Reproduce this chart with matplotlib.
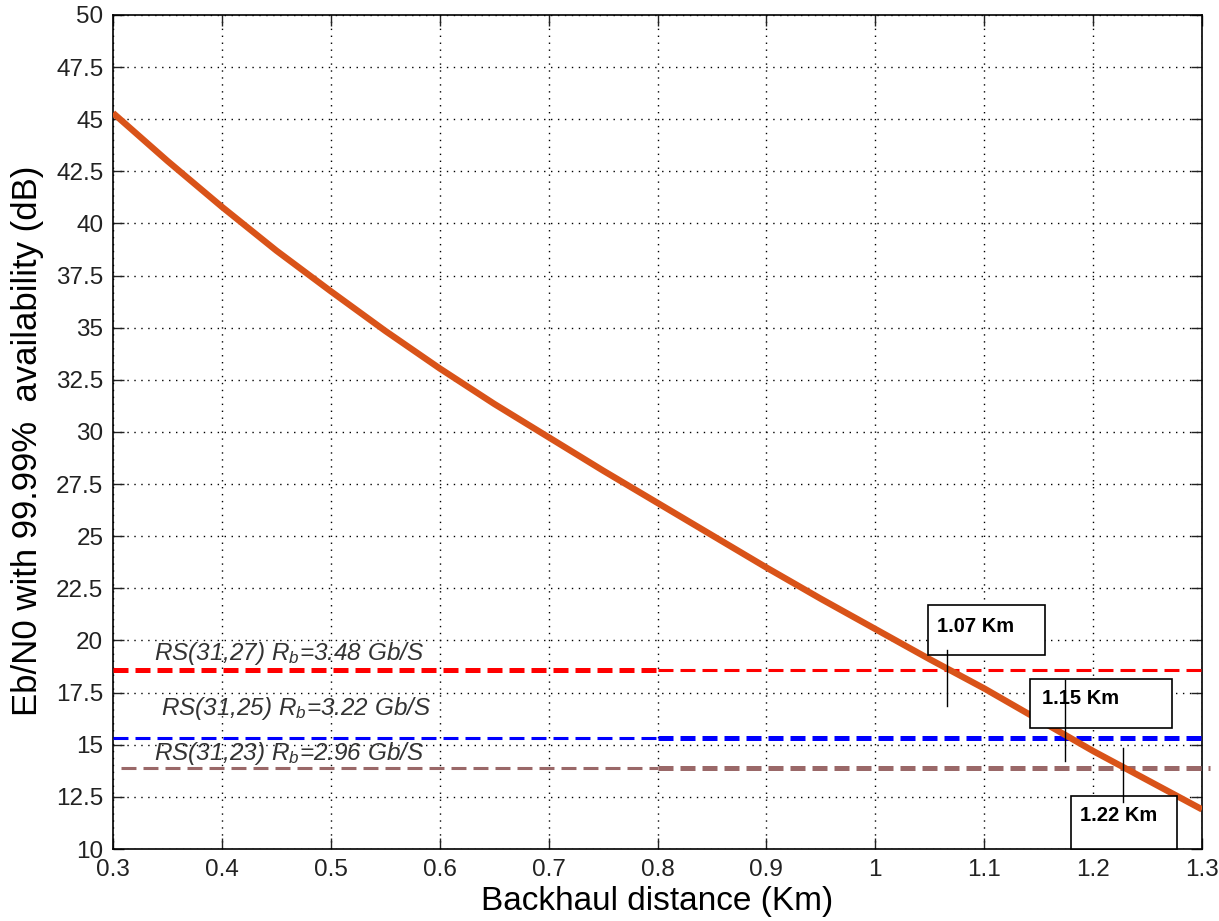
import matplotlib
matplotlib.use("Agg")
import matplotlib.pyplot as plt

plt.rcParams['font.family'] = ['Liberation Sans', 'DejaVu Sans']
plt.rcParams['mathtext.fontset'] = 'custom'
plt.rcParams['mathtext.rm'] = 'Liberation Sans'
plt.rcParams['mathtext.it'] = 'Liberation Sans:italic'

# Data
distance_km = [0.3, 0.35, 0.4, 0.45, 0.5, 0.55, 0.6, 0.65, 0.7, 0.75, 0.8,
               0.85, 0.9, 0.95, 1.0, 1.05, 1.1, 1.15, 1.2, 1.25, 1.3]
ebn0_db = [45.3, 43.0, 40.8, 38.7, 36.75, 34.85, 33.05, 31.35, 29.75, 28.15, 26.6,
           25.05, 23.5, 22.0, 20.55, 19.1, 17.7, 16.2, 14.7, 13.3, 11.9]

thresholds = [18.6, 15.3, 13.9]
threshold_colors = ['#ff0000', '#0000ff', '#9a6868']
threshold_labels = [r'RS(31,27) R$_b$=3.48 Gb/S',
                    r'RS(31,25) R$_b$=3.22 Gb/S',
                    r'RS(31,23) R$_b$=2.96 Gb/S']
crossings = [1.07, 1.15, 1.22]
crossing_x = [1.066, 1.174, 1.227]

xticks = [0.3, 0.4, 0.5, 0.6, 0.7, 0.8, 0.9, 1.0, 1.1, 1.2, 1.3]
xticklabels = ['0.3', '0.4', '0.5', '0.6', '0.7', '0.8', '0.9', '1', '1.1', '1.2', '1.3']
yticks = [10, 12.5, 15, 17.5, 20, 22.5, 25, 27.5, 30, 32.5, 35, 37.5, 40, 42.5, 45, 47.5, 50]
yticklabels = ['10', '12.5', '15', '17.5', '20', '22.5', '25', '27.5', '30', '32.5',
               '35', '37.5', '40', '42.5', '45', '47.5', '50']

fig = plt.figure(figsize=(12.19, 9.21), dpi=100)
ax = fig.add_axes([113/1219, 1-849/921, (1202-113)/1219, (849-15)/921])

split = 0.8
thick = dict(lw=3.6, ls=(0, (3.0, 1.4)))
thin = dict(lw=2.2, ls=(0, (4.9, 2.3)))
# red: thick left, thin right
ax.plot([0.3, split], [thresholds[0]]*2, color=threshold_colors[0], zorder=3, **thick)
ax.plot([split, 1.3], [thresholds[0]]*2, color=threshold_colors[0], zorder=3, **thin)
# blue: thin left, thick right
ax.plot([0.3, split], [thresholds[1]]*2, color=threshold_colors[1], zorder=3, **thin)
ax.plot([split, 1.3], [thresholds[1]]*2, color=threshold_colors[1], zorder=3, **thick)
# brown: thin left, thick right, extends slightly past axis
ax.plot([0.307, split], [thresholds[2]]*2, color=threshold_colors[2], zorder=3, **thin)
ax.plot([split, 1.307], [thresholds[2]]*2, color=threshold_colors[2], zorder=3,
        clip_on=False, **thick)

# Main curve
ax.plot(distance_km, ebn0_db, color='#d95319', lw=4.6, zorder=4,
        solid_capstyle='butt', solid_joinstyle='round')

# Labels on thresholds
label_pos = [(0.338, 19.4), (0.344, 16.75), (0.338, 14.6)]
for (lx, ly), txt in zip(label_pos, threshold_labels):
    ax.text(lx, ly, txt, fontsize=17.5, style='italic', color='#333333',
            va='center', ha='left', zorder=5)

# Annotation boxes
boxes = [(1.048, 1.156, 19.3, 21.7), (1.142, 1.272, 15.8, 18.15), (1.180, 1.277, 10.0, 12.54)]
text_pos = [(1.0567, 21.15), (1.153, 17.65), (1.188, 12.05)]
marks = [(16.86, 19.55), (14.2, 18.1), (12.25, 14.85)]
for (x0, x1, y0, y1), (tx, ty), (m0, m1), cx, val in zip(boxes, text_pos, marks, crossing_x, crossings):
    ax.add_patch(plt.Rectangle((x0, y0), x1 - x0, y1 - y0, fill=True, facecolor='white',
                               edgecolor='black', lw=1.2, zorder=5, clip_on=False))
    ax.text(tx, ty, f'{val:.2f} Km', fontsize=14.5, fontweight='bold',
            va='top', ha='left', zorder=6)
    ax.plot([cx, cx], [m0, m1], color='black', lw=1.0, zorder=7)

ax.set_xlim(0.3, 1.3)
ax.set_ylim(10, 50)
ax.set_xticks(xticks)
ax.set_xticklabels(xticklabels)
ax.set_yticks(yticks)
ax.set_yticklabels(yticklabels)
ax.tick_params(direction='in', top=True, right=True, labelsize=17.5, length=8, width=1,
               colors='#222222')
ax.tick_params(axis='x', pad=7)
ax.tick_params(axis='y', pad=7)
ax.grid(True, ls=(0, (1, 4)), color='black', lw=1.0)
for s in ax.spines.values():
    s.set_linewidth(1.2)
ax.set_xlabel('Backhaul distance (Km)', fontsize=24)
ax.set_ylabel('Eb/N0 with 99.99%  availability (dB)', fontsize=25)
ax.xaxis.set_label_coords(0.5, -0.044)
ax.yaxis.set_label_coords(-0.063, 0.49)

fig.savefig('out.png', dpi=100)
